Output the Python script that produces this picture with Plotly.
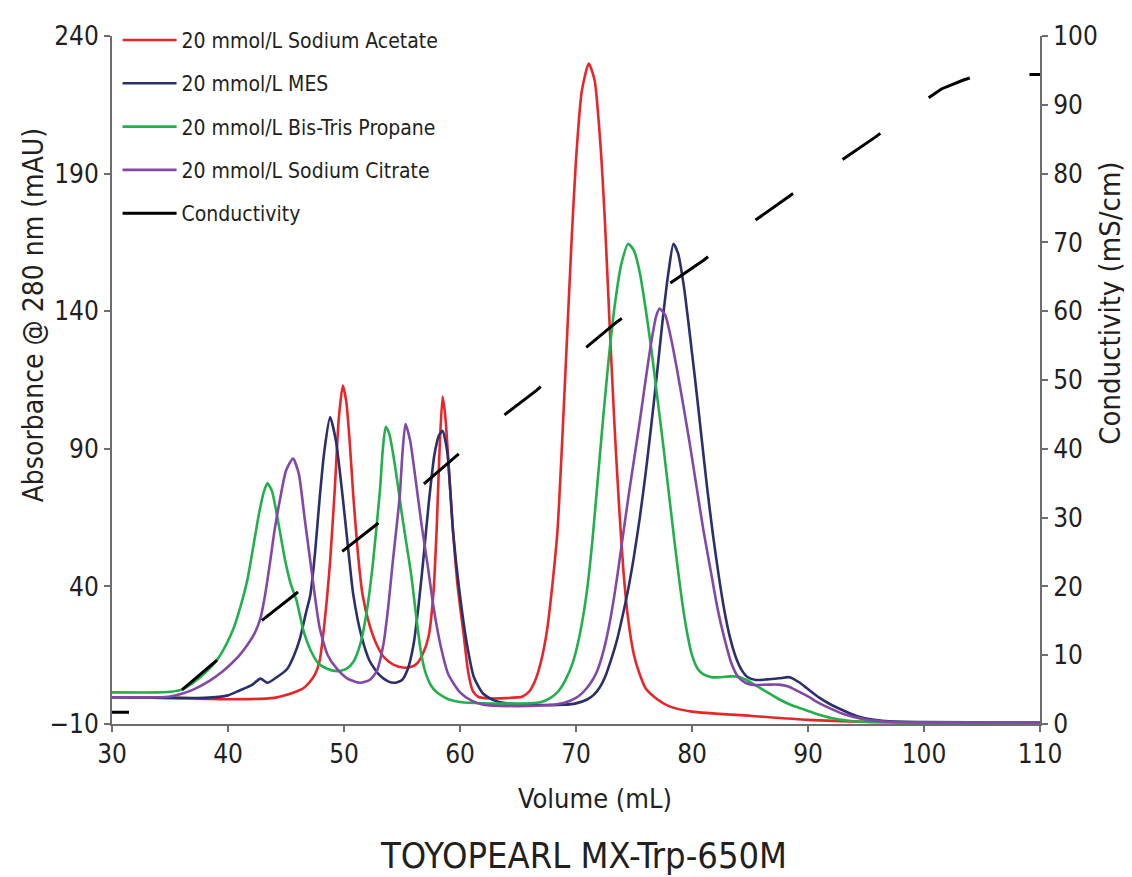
import plotly.graph_objects as go

# ---------------- data ----------------
acetate_x = [30, 35, 40, 44, 45, 46, 46.5, 47, 47.5, 47.9, 48.3, 48.8, 49.2, 49.55, 49.9, 50.2, 50.5, 50.8, 51.2, 51.6,
             52.2, 52.8, 53.5, 54.3, 55.1, 55.8, 56.3, 56.8, 57.3, 57.7, 58.0, 58.25, 58.5, 58.75, 59.05, 59.4, 59.8,
             60.3, 60.7, 61.1, 61.6, 62.5, 64, 65.4, 66, 66.5, 67, 67.5, 68, 68.4, 68.8, 69.2, 69.6, 70, 70.5, 71.1,
             71.6, 72.1, 72.5, 72.9, 73.3, 73.7, 74.1, 74.5, 75, 75.5, 76, 77, 78, 80, 85, 90, 95, 100, 110]
acetate_y = [-0.3, -0.5, -1, -0.5, 0.5, 2, 3, 5, 8, 13, 26, 49, 75, 101, 113, 107, 92, 73, 52, 37,
             26, 19, 14, 11.5, 10.5, 10.8, 12, 15.5, 22, 37, 62, 91, 109, 101, 82, 60, 40,
             23, 9, 2, -0.2, -0.7, -0.6, 0, 2, 6, 13, 24, 42, 60, 92, 128, 164, 195, 220, 230,
             224, 201, 172, 135, 100, 70, 45, 28, 15, 8, 3, -1, -3.5, -5.5, -7, -8.5, -9.2, -9.4, -9.5]

mes_x = [30, 35, 38, 40, 41, 42, 42.8, 43.4, 44.2, 45.1, 45.7, 46.2, 46.7, 47.1, 47.5, 47.9, 48.3, 48.8, 49.3, 49.9,
         50.4, 50.8, 51.5, 52.2, 53, 53.8, 54.4, 55, 55.5, 56, 56.4, 56.8, 57.3, 57.8, 58.2, 58.5, 58.9, 59.4, 59.9,
         60.6, 61.2, 62, 63, 64, 66, 69, 70, 71, 71.5, 72, 72.5, 73, 73.5, 74, 74.5, 75, 75.5, 76, 76.5, 77, 77.5,
         78, 78.4, 78.8, 79.3, 79.8, 80.3, 80.8, 81.3, 81.8, 82.3, 82.8, 83.3, 83.8, 84.3, 84.8, 85.5, 86.5, 87.5,
         88.4, 89.3, 90.2, 91, 92, 93, 94, 95, 97, 100, 110]
mes_y = [-0.3, -0.5, -0.5, 0.4, 2.2, 4, 6.5, 5, 7, 10, 15, 21, 30, 37, 52, 72, 89, 101.5, 93, 72,
         52, 37, 22, 13, 8, 5.5, 5, 6, 10, 19, 32, 48, 70, 88, 95, 96.5, 89, 60, 40,
         19, 7, 1, -1.5, -2.5, -3, -3, -2.5, -1, 0.5, 3, 7, 13, 20, 29, 39, 51, 65, 81, 99, 118, 138,
         155, 164.5, 161, 149, 132, 114, 95, 76, 59, 44, 31, 21, 14, 9.5, 7, 6, 6.2, 6.6,
         7, 5, 2, -0.5, -3, -5, -6.8, -8, -9, -9.3, -9.5]

btp_x = [30, 34, 35, 36, 37, 38, 39, 39.8, 40.5, 41.1, 41.7, 42.2, 42.7, 43.1, 43.4, 43.8, 44.3, 44.9, 45.4, 45.9,
         46.5, 47.1, 47.8, 48.6, 49.4, 50.2, 50.8, 51.4, 52, 52.5, 53.1, 53.35, 53.6, 53.9, 54.2, 54.6, 55, 55.4,
         55.8, 56.2, 56.6, 57, 57.5, 58, 59, 60, 62, 66, 67, 67.8, 68.5, 69.1, 69.7, 70.3, 70.9, 71.4, 71.9, 72.4,
         72.9, 73.4, 73.9, 74.5, 75, 75.5, 76, 76.5, 77, 77.5, 78, 78.5, 79, 79.5, 80, 80.5, 81, 81.7, 82.5, 83.3,
         84, 84.7, 85.5, 86.5, 87.5, 88.5, 89.5, 90.5, 92, 93.5, 95, 100, 110]
btp_y = [1.5, 1.5, 1.7, 2.5, 5, 8.5, 13, 18.5, 25, 33, 43, 55, 67, 74.5, 77.5, 74.5, 64, 50, 41, 35,
         24, 17, 12, 10, 9.2, 10, 12.5, 19, 32, 48.7, 75, 90, 98, 95.5, 89, 78, 66, 55,
         44, 30, 17, 9, 4, 1.5, -1, -2, -2.5, -2.5, -2, -0.5, 2, 6, 12, 22, 37, 56, 80, 104,
         126, 144, 157, 164.5, 162, 154, 141, 126, 109, 92, 74, 56, 39, 25, 15, 10, 8, 7, 7, 7.3,
         7.2, 6, 4, 1.5, -1, -3, -4.5, -6, -7.8, -8.8, -9.3, -9.5, -9.5]

citrate_x = [30, 34, 35, 36, 37, 38.4, 39.5, 40.3, 41, 41.8, 42.3, 42.8, 43.2, 43.6, 44, 44.5, 45, 45.6, 46.1, 46.6,
             47.1, 47.9, 48.6, 49.4, 50.3, 51.4, 52.2, 52.8, 53.4, 53.8, 54.2, 54.8, 55.05, 55.3, 55.7, 56.2, 56.7,
             57.2, 57.7, 58.3, 59, 60, 61, 62, 65, 68, 69, 70, 70.6, 71.2, 71.8, 72.4, 73, 73.5, 74, 74.5, 75, 75.5,
             76, 76.5, 76.9, 77.2, 77.7, 78.2, 78.7, 79.2, 79.8, 80.4, 81, 81.6, 82.2, 82.8, 83.4, 84, 84.6, 85.3,
             86.5, 87.5, 88.3, 89, 90, 91, 92, 93, 94, 95, 97, 100, 110]
citrate_y = [-0.3, -0.3, 0, 1, 2.5, 5.7, 9, 12, 15, 19.5, 23, 28.5, 37, 48, 60, 72, 82, 86.5, 81, 65,
             49, 25, 15, 10, 6.5, 5, 6, 9, 19, 32, 48.7, 72.6, 89, 99, 93, 78, 62,
             48, 33, 19, 8, 1.5, -1.5, -3, -3.5, -3, -2.3, -0.5, 1.5, 4.5, 9, 17, 29, 42, 57, 72, 86, 100,
             115, 129, 138, 141, 138.5, 130, 119, 107, 92, 76, 60, 46, 32, 21, 12, 7, 5, 4.2,
             4.3, 4.3, 3.6, 2.2, 0, -2.5, -4.5, -6.3, -7.5, -8.4, -9.2, -9.4, -9.5]

cond_x = [30, 33.7, 36, 39, 42.8, 45.9, 49.7, 52.8, 56.6, 59.6, 63.5, 66.6, 70.5, 73.5, 77.8, 81, 85.1, 88.2,
          92.4, 95.8, 99.8, 101.5, 103.4, 104.5, 106, 110]
cond_y = [1.7, 1.7, 4.9, 9.2, 14.9, 19, 24.9, 29, 34.5, 38.8, 44.5, 48.5, 54.2, 58.4, 63.7, 67.4, 72.8, 76.5,
          81.4, 85.3, 90.3, 92.3, 93.6, 94.2, 94.4, 94.4]

names = ["20 mmol/L Sodium Acetate", "20 mmol/L MES", "20 mmol/L Bis-Tris Propane", "20 mmol/L Sodium Citrate"]
colors = ["#E8262A", "#2B2F6B", "#22B04B", "#8148A8"]

x_ticks = [30, 40, 50, 60, 70, 80, 90, 100, 110]
y_ticks = [-10, 40, 90, 140, 190, 240]
y2_ticks = [0, 10, 20, 30, 40, 50, 60, 70, 80, 90, 100]

FONT = "Liberation Sans Narrow, DejaVu Sans Condensed, Arial Narrow, sans-serif"
TXT = "#231F20"
AX = "#6d6d6d"

fig = go.Figure()
series = [(acetate_x, acetate_y), (mes_x, mes_y), (btp_x, btp_y), (citrate_x, citrate_y)]
for i, ((xs, ys), nm, c) in enumerate(zip(series, names, colors)):
    fig.add_trace(go.Scatter(x=xs, y=ys, mode="lines", name=nm, legendgroup=str(i),
                             line=dict(color=c, width=2.6, shape="spline", smoothing=0.6)))

dash = "17px,61px" + ",46px,60px" * 14
fig.add_trace(go.Scatter(x=cond_x, y=cond_y, mode="lines", yaxis="y2", showlegend=False,
                         line=dict(color="black", width=3, dash=dash)))
fig.add_trace(go.Scatter(x=[None], y=[None], mode="lines", name="Conductivity", legendgroup="4",
                         line=dict(color="black", width=3)))

# page has an 8px body margin, so the figure is shrunk by 8px and margins shifted
fig.update_layout(
    width=1124, height=869,
    margin=dict(l=104, r=92, t=17, b=153),
    paper_bgcolor="white", plot_bgcolor="white",
    font=dict(family=FONT, color=TXT, size=22),
    showlegend=True,
    legend=dict(x=0.006, y=1.0235, xanchor="left", yanchor="top", bgcolor="rgba(0,0,0,0)",
                font=dict(size=21, family=FONT, color=TXT), traceorder="grouped",
                tracegroupgap=13, itemwidth=54),
    xaxis=dict(range=[30, 110], tickvals=x_ticks, showline=True, linecolor=AX, linewidth=2,
               ticks="outside", ticklen=6, tickcolor=AX, tickwidth=2, showgrid=False, zeroline=False,
               tickfont=dict(size=26)),
    yaxis=dict(range=[-10, 240], tickvals=y_ticks, showline=True, linecolor=AX, linewidth=2,
               ticks="outside", ticklen=6, tickcolor=AX, tickwidth=2, showgrid=False, zeroline=False,
               tickfont=dict(size=26)),
    yaxis2=dict(range=[0, 100], tickvals=y2_ticks, overlaying="y", side="right", showline=True,
                linecolor=AX, linewidth=2, ticks="outside", ticklen=6, tickcolor=AX, tickwidth=2,
                showgrid=False, zeroline=False, tickfont=dict(size=26)),
    annotations=[
        dict(text="Absorbance @ 280 nm (mAU)", xref="paper", yref="paper", x=-0.0851, y=0.594,
             textangle=-90, showarrow=False, font=dict(size=28), xanchor="center", yanchor="middle"),
        dict(text="Conductivity (mS/cm)", xref="paper", yref="paper", x=1.0755, y=0.611,
             textangle=-90, showarrow=False, font=dict(size=29), xanchor="center", yanchor="middle"),
        dict(text="Volume (mL)", xref="paper", yref="paper", x=0.5205, y=-0.1087,
             showarrow=False, font=dict(size=27), xanchor="center", yanchor="middle"),
        dict(text="TOYOPEARL MX-Trp-650M", xref="paper", yref="paper", x=0.5086, y=-0.1917,
             showarrow=False, font=dict(size=36), xanchor="center", yanchor="middle"),
    ],
)

fig.write_html("out.html")
